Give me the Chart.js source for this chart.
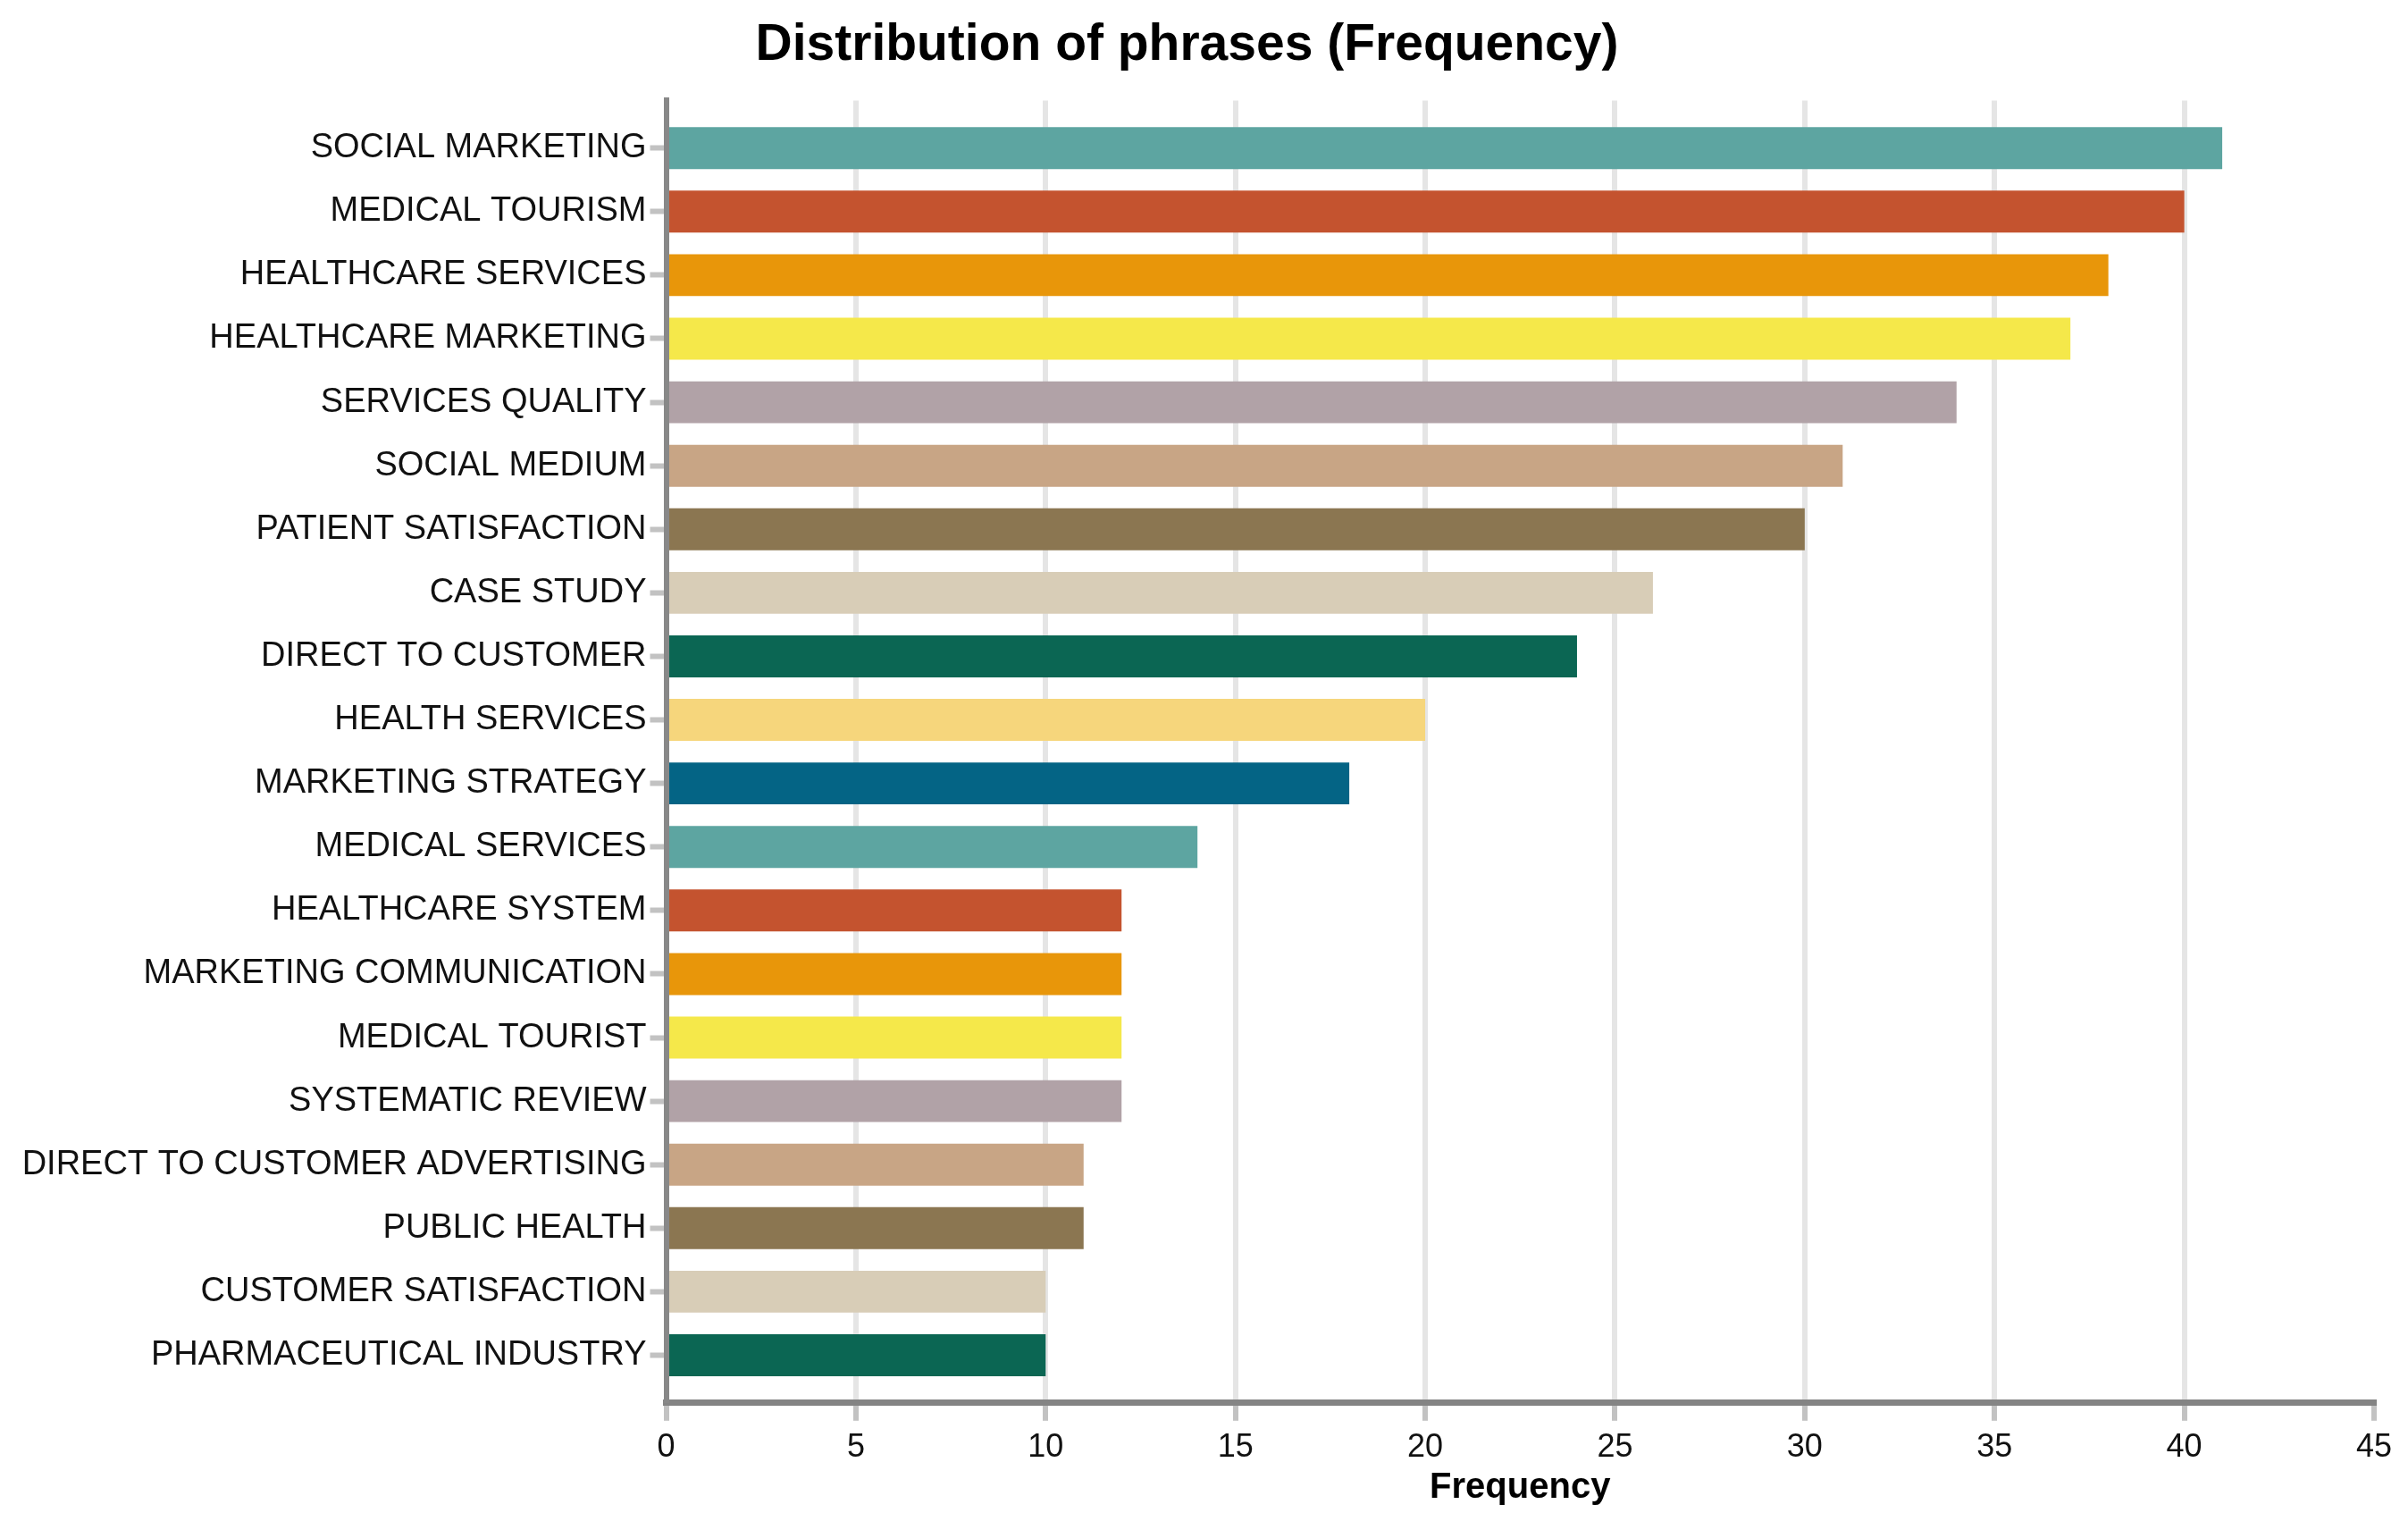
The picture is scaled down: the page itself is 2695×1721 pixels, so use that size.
<!DOCTYPE html>
<html>
<head>
<meta charset="utf-8">
<script src="https://cdn.jsdelivr.net/npm/chart.js@4/dist/chart.umd.min.js"></script>
<style>
  html, body { margin: 0; padding: 0; background: #ffffff; }
  #wrap { width: 2695px; height: 1721px; position: relative; }
</style>
</head>
<body>
<div id="wrap"><canvas id="c"></canvas></div>
<script>
const categories = [
  "SOCIAL MARKETING",
  "MEDICAL TOURISM",
  "HEALTHCARE SERVICES",
  "HEALTHCARE MARKETING",
  "SERVICES QUALITY",
  "SOCIAL MEDIUM",
  "PATIENT SATISFACTION",
  "CASE STUDY",
  "DIRECT TO CUSTOMER",
  "HEALTH SERVICES",
  "MARKETING STRATEGY",
  "MEDICAL SERVICES",
  "HEALTHCARE SYSTEM",
  "MARKETING COMMUNICATION",
  "MEDICAL TOURIST",
  "SYSTEMATIC REVIEW",
  "DIRECT TO CUSTOMER ADVERTISING",
  "PUBLIC HEALTH",
  "CUSTOMER SATISFACTION",
  "PHARMACEUTICAL INDUSTRY"
];
const frequency = [41, 40, 38, 37, 34, 31, 30, 26, 24, 20, 18, 14, 12, 12, 12, 12, 11, 11, 10, 10];
const xTickMin = 0;
const xTickMax = 45;
const xTickStep = 5;
const palette = ["#5da5a1", "#c4532f", "#e8960a", "#f5e84a", "#b1a2a7", "#c8a585",
                 "#8b7651", "#d8cdb7", "#0b6653", "#f6d67c", "#046485"];

const FONT = "'Liberation Sans', Arial, sans-serif";

new Chart(document.getElementById('c'), {
  type: 'bar',
  data: {
    datasets: [{
      data: frequency.map((v, i) => ({ x: v, y: i })),
      backgroundColor: categories.map((_, i) => palette[i % palette.length]),
      borderWidth: 0,
      categoryPercentage: 1,
      barPercentage: 0.66
    }]
  },
  options: {
    indexAxis: 'y',
    responsive: true,
    maintainAspectRatio: false,
    devicePixelRatio: 1,
    animation: false,
    layout: { padding: { left: 0, right: 38, top: 0, bottom: 32 } },
    plugins: {
      legend: { display: false },
      tooltip: { enabled: false },
      title: {
        display: true,
        text: 'Distribution of phrases (Frequency)',
        color: '#000000',
        font: { family: FONT, size: 57, weight: 'bold' },
        padding: { top: 17, bottom: 27 }
      }
    },
    scales: {
      x: {
        type: 'linear',
        position: 'bottom',
        min: xTickMin,
        max: xTickMax,
        offset: false,
        ticks: {
          stepSize: xTickStep,
          color: '#111111',
          font: { family: FONT, size: 36 },
          padding: 9,
          maxRotation: 0
        },
        grid: {
          offset: false,
          color: (ctx) => (ctx.tick && ctx.tick.value >= xTickMax) ? 'rgba(0,0,0,0)' : '#e5e5e5',
          lineWidth: 6,
          drawTicks: true,
          tickLength: 20,
          tickColor: '#c2c2c2',
          tickWidth: 6
        },
        border: { display: true, color: '#848484', width: 7, z: 1 },
        title: {
          display: true,
          text: 'Frequency',
          color: '#000000',
          font: { family: FONT, size: 40, weight: 'bold' },
          padding: { top: -10, bottom: 0 }
        }
      },
      y: {
        type: 'linear',
        reverse: true,
        offset: false,
        min: -0.75,
        max: categories.length - 0.25,
        afterBuildTicks: (scale) => {
          scale.ticks = categories.map((_, i) => ({ value: i }));
        },
        afterFit: (scale) => { scale.width = 745.5; },
        ticks: {
          autoSkip: false,
          color: '#111111',
          font: { family: FONT, size: 38 },
          padding: 4,
          callback: (value) => categories[value]
        },
        grid: {
          offset: false,
          drawOnChartArea: false,
          drawTicks: true,
          tickLength: 18,
          tickColor: '#c2c2c2',
          tickWidth: 6
        },
        border: { display: true, color: '#888888', width: 6, z: 1 }
      }
    }
  }
});
</script>
</body>
</html>
